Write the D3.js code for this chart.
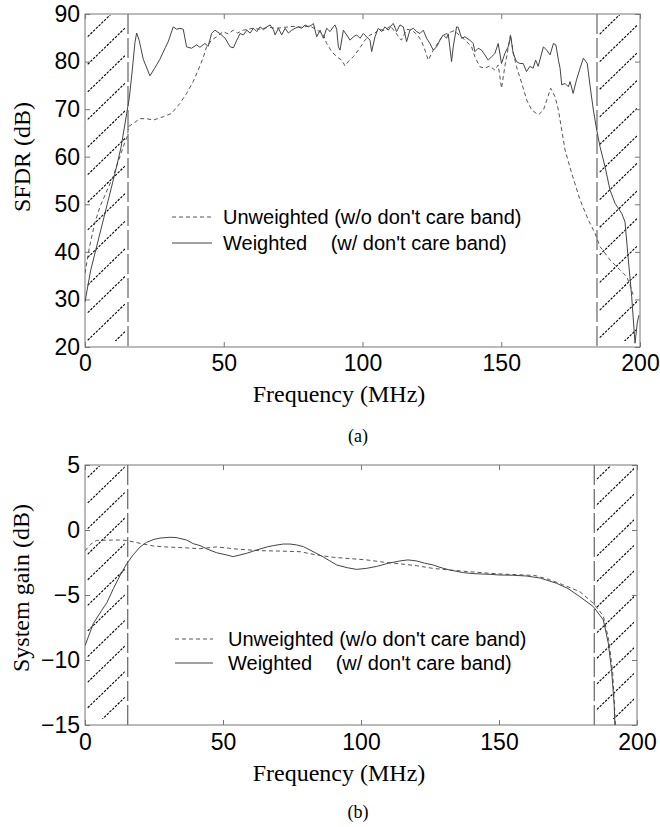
<!DOCTYPE html>
<html>
<head>
<meta charset="utf-8">
<script src="https://cdn.jsdelivr.net/npm/d3@7"></script>
<style>
    body { margin: 0; background: #fff; }
    svg { display: block; }
</style>
</head>
<body>
<div id="chart"></div>
<script>
'use strict';

/* global d3 */

var FREQ_TICKS = [0, 50, 100, 150, 200];
var SFDR_TICKS = [20, 30, 40, 50, 60, 70, 80, 90];
var GAIN_TICKS = [-15, -10, -5, 0, 5];
var DONT_CARE_BANDS = [[0, 15.5], [184.5, 200]];
var LEGEND_LABELS = ["Unweighted (w/o don't care band)", "Weighted", "(w/ don't care band)"];

// [frequency MHz, SFDR dB]
var sfdrUnweighted = [
    [0, 35.5], [1.6, 41], [3.5, 46], [5.4, 49.5], [8, 53], [10.1, 55.8], [12, 59], [13.8, 62.1],
    [15.4, 64.6], [15.6, 66.3], [17.4, 67], [19.8, 68], [22.2, 68], [24.6, 67.7], [28.2, 68.4],
    [31.2, 69.1], [34.2, 71.2], [36.6, 73.3], [39, 75.8], [40.8, 78.2], [42.7, 81], [43.8, 83.1],
    [45.6, 84.5], [47.4, 85.2], [49.8, 86.3], [51.6, 85.8], [53.4, 86.6], [55, 86], [57, 86.6],
    [60.6, 87], [63, 86.8], [66, 87.2], [69, 87], [72, 87.2], [75, 87.4], [78, 87.2], [81, 87.5],
    [84, 86.5], [86, 85.5], [87.1, 83.8], [88.9, 82.1], [90.7, 81], [92.5, 80.3], [93.7, 79.1],
    [94.9, 80], [96.7, 81], [98.5, 82.4], [100.9, 84.5], [102.5, 85.5], [104.5, 86], [106, 86.8],
    [108, 86.5], [110, 87.5], [112.3, 85.8], [114, 84.5], [116, 86.8], [118, 86.5], [120, 85.5],
    [121.5, 84], [122.5, 82.4], [123.7, 80.3], [125.5, 82.4], [127.3, 84], [129.1, 85.6], [131, 86],
    [133, 86.5], [135, 85.5], [137, 84.5], [139.3, 83.1], [140.5, 81], [142.3, 78.9], [144.1, 78.6],
    [145.9, 79.1], [147.7, 78.2], [148.9, 79.3], [150.1, 74.4], [151.3, 79], [152.5, 82.8],
    [153.3, 85.6], [154.3, 82], [155.5, 78.9], [157.4, 75.4], [159.2, 71.9], [161, 69.8],
    [163.4, 68.8], [165.2, 69.8], [166.4, 71.9], [167.8, 74.4], [169.4, 72.6], [170.6, 69.8],
    [171.8, 65.6], [173, 61.4], [175.4, 56.5], [178.4, 50.9], [181.4, 46.7], [183.8, 43.9],
    [185.6, 41.1], [189.2, 38.3], [192.8, 36.2], [195.2, 34.8], [196.4, 33], [197.5, 31]
];

var sfdrWeighted = [
    [0, 29.5], [2, 36], [5, 43], [8, 50], [11, 57], [13, 62], [15, 69], [16, 72.5], [17, 78],
    [18, 84], [18.6, 86], [19.5, 84.5], [21, 80.5], [23.4, 77], [25, 78.5], [27, 80.5], [29, 83],
    [30, 84.2], [31.8, 87.3], [33, 86.8], [34.2, 87], [35.4, 86.8], [36.6, 83.1], [38.4, 82.8],
    [40.2, 83.5], [41.4, 83], [43.2, 83.8], [44.4, 83.2], [45.6, 85.9], [46.8, 86.6], [48.6, 85.9],
    [50.5, 84.9], [52.3, 83.1], [53.5, 82.9], [54.7, 84.5], [55.9, 85.9], [57.1, 85.6], [58.3, 86.6],
    [59.5, 86], [60.7, 87], [61.9, 86.3], [63.1, 87.3], [64.3, 86.7], [65.5, 87.3], [66.7, 87.7],
    [67.9, 86.7], [68.5, 85.6], [69.7, 87], [70.9, 85.6], [72.1, 87], [73.3, 86], [74.5, 86.6],
    [75.7, 87], [76.9, 87.3], [78.1, 87], [79.3, 87.7], [80.5, 87.3], [81.7, 87.7], [82.3, 88],
    [83.5, 85.2], [84.7, 86.6], [85.9, 84.9], [87.1, 87], [88.3, 86.3], [89.5, 87.3], [90.1, 87.7],
    [90.7, 86.8], [91.3, 83.1], [91.9, 82.4], [93.1, 86.6], [94.3, 85.6], [95.5, 84.5], [96.7, 85.2],
    [97.9, 85.6], [99.1, 84.9], [100.3, 85.9], [101.5, 85.2], [102.7, 84.5], [103.3, 82.1],
    [104.5, 85.2], [105.7, 87], [106.9, 86.3], [108.1, 87.3], [109.3, 86.6], [110.5, 87.7],
    [111.1, 88], [112.3, 86.3], [113.5, 87.7], [114.7, 87.3], [115.9, 84.2], [117.1, 86.6],
    [118.3, 87], [119.5, 86.3], [120.7, 85.9], [121.9, 86.6], [123.1, 84.9], [124.3, 83.8],
    [125.5, 82.4], [126.7, 83.1], [127.9, 84.5], [129.1, 85.6], [130.3, 84.9], [130.9, 85.8],
    [132.1, 80], [132.7, 83.1], [133.9, 87.3], [134.5, 87.2], [135.7, 84.9], [136.9, 85.2],
    [138.7, 84.5], [139.9, 83.8], [140.5, 82.1], [141.7, 82.8], [142.9, 82.4], [144.1, 81.4],
    [145.3, 80.3], [146.5, 81], [147.7, 81.7], [148.9, 83.8], [150.1, 79.6], [151.3, 81.7],
    [152.5, 83.1], [153.4, 85.4], [154.3, 81.7], [155.5, 80], [156.7, 79.6], [157.9, 79.6],
    [159.1, 77.9], [160.3, 79], [161.5, 78.6], [162.4, 80.3], [163.3, 79], [165.2, 83.1],
    [166.4, 82.4], [167.6, 81.4], [168.8, 83.8], [169.7, 83.5], [170.6, 80.3], [171.2, 78.6],
    [171.8, 75.1], [173, 75.4], [174.2, 74.7], [174.8, 75.8], [175.9, 73.3], [177.1, 76.1],
    [178.4, 78.6], [179.6, 80.7], [181, 79.6], [182, 74.9], [183.2, 69.8], [184.4, 65.6],
    [185.6, 62.1], [187.4, 57.9], [189.2, 53], [191, 50.2], [193.4, 48.1], [194.6, 46.3],
    [195.8, 38.3], [197, 30.6], [198.2, 20.8], [199, 25], [199.6, 26.7]
];

// [frequency MHz, system gain dB]
var gainUnweighted = [
    [0, -1.6], [2, -1.1], [4.2, -0.8], [8, -0.78], [12, -0.77], [15.1, -0.8], [20, -1.03],
    [24.8, -1.23], [29, -1.3], [35.6, -1.36], [41.7, -1.44], [47.7, -1.3], [52, -1.4],
    [56.2, -1.49], [63.4, -1.59], [70.7, -1.62], [77.9, -1.67], [83.9, -1.92], [90, -2.1],
    [96, -2.2], [102, -2.3], [108, -2.47], [114, -2.6], [120.2, -2.75], [126, -2.95],
    [132.2, -3.08], [139.5, -3.21], [146.7, -3.33], [152, -3.4], [158, -3.45], [163, -3.5],
    [168, -3.8], [173, -4.2], [179.3, -4.74], [184.2, -5.64], [187.8, -6.6], [189.8, -8.5],
    [191.2, -11], [192.2, -15]
];

var gainWeighted = [
    [0, -8.9], [3, -7.2], [6, -6.2], [7.9, -5.6], [10.3, -4.5], [12.7, -3.5], [15.1, -2.6],
    [17.5, -1.9], [20, -1.3], [22.3, -0.95], [25, -0.72], [27.2, -0.62], [30.8, -0.56], [33, -0.58],
    [36.8, -0.77], [39.2, -1.05], [41.7, -1.2], [44.1, -1.45], [47.7, -1.75], [51.3, -1.92],
    [53.7, -2.05], [58.6, -1.79], [62.2, -1.54], [66, -1.3], [68.2, -1.2], [71.9, -1.08],
    [74.3, -1.08], [76.7, -1.15], [79.1, -1.28], [83, -1.7], [86.3, -2.07], [91.2, -2.69],
    [95, -2.9], [98.4, -3.03], [102, -2.95], [105.7, -2.8], [110, -2.55], [114.1, -2.38],
    [117, -2.3], [120.2, -2.38], [123, -2.55], [126.2, -2.69], [129, -2.9], [132.2, -3.08],
    [137.1, -3.28], [141, -3.36], [146.7, -3.41], [150, -3.46], [155, -3.48], [160, -3.54],
    [165, -3.7], [170.9, -4.1], [175, -4.5], [179.3, -5.13], [184.2, -5.9], [187.8, -6.92],
    [189.6, -8.7], [190.8, -10.8], [191.7, -13.3], [192, -15]
];

var WIDTH = 660;
var HEIGHT = 827;
var HATCH_SLOPE = 0.97;
var FRAME_COLOR = "#777";
var SANS = "'Liberation Sans', Arial, sans-serif";
var SERIF = "'Liberation Serif', 'Times New Roman', serif";

var svg = d3.select("#chart").append("svg")
    .attr("width", WIDTH)
    .attr("height", HEIGHT);
var defs = svg.append("defs");

svg.append("rect")
    .attr("width", WIDTH)
    .attr("height", HEIGHT)
    .attr("fill", "#fff");

function drawPanel(cfg) {
    var g = svg.append("g");
    var x = d3.scaleLinear().domain([0, 200]).range([cfg.left, cfg.right]);
    var y = d3.scaleLinear().domain(cfg.yDomain).range([cfg.bottom, cfg.top]);

    defs.append("clipPath").attr("id", cfg.id + "-clip")
        .append("rect")
        .attr("x", cfg.left)
        .attr("y", cfg.top)
        .attr("width", cfg.right - cfg.left)
        .attr("height", cfg.bottom - cfg.top);

    // don't care bands: hatching
    DONT_CARE_BANDS.forEach(function (band, i) {
        var x0 = x(band[0]);
        var x1 = x(band[1]);
        var hid = cfg.id + "-hatch" + i;
        defs.append("clipPath").attr("id", hid)
            .append("rect")
            .attr("x", x0 + 2)
            .attr("y", cfg.top + 1)
            .attr("width", x1 - x0 - 5)
            .attr("height", cfg.bottom - cfg.top - 7);

        var starts = [];
        for (var yy = cfg.hatchPhase[i] - 3 * cfg.hatchStep; yy < cfg.bottom + 60; yy += cfg.hatchStep) {
            starts.push(yy);
        }
        g.append("g")
            .attr("clip-path", "url(#" + hid + ")")
            .selectAll("line")
            .data(starts)
            .enter().append("line")
            .attr("x1", x0)
            .attr("y1", function (d) { return d; })
            .attr("x2", x1)
            .attr("y2", function (d) { return d - HATCH_SLOPE * (x1 - x0); })
            .attr("stroke", "#000")
            .attr("stroke-width", 1.1)
            .attr("stroke-dasharray", "2.5,1.3");
    });

    // band edges
    g.selectAll(".edge")
        .data([DONT_CARE_BANDS[0][1], DONT_CARE_BANDS[1][0]])
        .enter().append("line")
        .attr("class", "edge")
        .attr("x1", function (d) { return x(d); })
        .attr("x2", function (d) { return x(d); })
        .attr("y1", cfg.top)
        .attr("y2", cfg.bottom)
        .attr("stroke", "#444")
        .attr("stroke-width", 1)
        .attr("stroke-dasharray", "20,4");

    // axes (ticks point inward)
    function styleAxis(sel) {
        sel.select(".domain").remove();
        sel.selectAll(".tick line").attr("stroke", FRAME_COLOR);
        sel.selectAll(".tick text")
            .attr("fill", "#000")
            .style("font-family", SANS)
            .style("font-size", "23px");
    }

    g.append("g")
        .attr("transform", "translate(0," + cfg.bottom + ")")
        .call(d3.axisBottom(x).tickValues(FREQ_TICKS).tickSize(-5).tickPadding(cfg.xPad))
        .call(styleAxis);
    g.append("g")
        .attr("transform", "translate(0," + cfg.top + ")")
        .call(d3.axisTop(x).tickValues(FREQ_TICKS).tickSize(-5).tickFormat(""))
        .call(styleAxis);
    g.append("g")
        .attr("transform", "translate(" + cfg.left + ",0)")
        .call(d3.axisLeft(y).tickValues(cfg.yTicks).tickSize(-5).tickPadding(5))
        .call(styleAxis);
    g.append("g")
        .attr("transform", "translate(" + cfg.right + ",0)")
        .call(d3.axisRight(y).tickValues(cfg.yTicks).tickSize(-5).tickFormat(""))
        .call(styleAxis);

    g.append("rect")
        .attr("x", cfg.left)
        .attr("y", cfg.top)
        .attr("width", cfg.right - cfg.left)
        .attr("height", cfg.bottom - cfg.top)
        .attr("fill", "none")
        .attr("stroke", FRAME_COLOR)
        .attr("stroke-width", 1);

    // curves
    var line = d3.line()
        .x(function (d) { return x(d[0]); })
        .y(function (d) { return y(d[1]); });

    var curves = g.append("g").attr("clip-path", "url(#" + cfg.id + "-clip)");
    curves.append("path")
        .datum(cfg.unweighted)
        .attr("d", line)
        .attr("fill", "none")
        .attr("stroke", "#555")
        .attr("stroke-width", 1)
        .attr("stroke-dasharray", "4,3");
    curves.append("path")
        .datum(cfg.weighted)
        .attr("d", line)
        .attr("fill", "none")
        .attr("stroke", "#444")
        .attr("stroke-width", 1);

    // legend
    var lg = cfg.legend;
    g.append("line")
        .attr("x1", lg.x1).attr("x2", lg.x2)
        .attr("y1", lg.y[0]).attr("y2", lg.y[0])
        .attr("stroke", "#555")
        .attr("stroke-dasharray", "4,3");
    g.append("line")
        .attr("x1", lg.x1).attr("x2", lg.x2)
        .attr("y1", lg.y[1]).attr("y2", lg.y[1])
        .attr("stroke", "#444");

    g.append("text")
        .attr("x", lg.textX)
        .attr("y", lg.y[0])
        .attr("dy", "0.35em")
        .style("font-family", SANS)
        .style("font-size", "20px")
        .text(LEGEND_LABELS[0]);

    var probe = g.append("text")
        .style("font-family", SANS)
        .style("font-size", "20px")
        .text("Unweighted ");
    var gap = probe.node().getComputedTextLength();
    probe.remove();

    var t2 = g.append("text")
        .attr("y", lg.y[1])
        .attr("dy", "0.35em")
        .style("font-family", SANS)
        .style("font-size", "20px");
    t2.append("tspan").attr("x", lg.textX).text(LEGEND_LABELS[1]);
    t2.append("tspan").attr("x", lg.textX + gap + 2).text(LEGEND_LABELS[2]);

    // titles
    g.append("text")
        .attr("x", cfg.xTitleX)
        .attr("y", cfg.xTitleY)
        .attr("text-anchor", "middle")
        .style("font-family", SERIF)
        .style("font-size", "24px")
        .text("Frequency (MHz)");

    g.append("text")
        .attr("transform", "translate(" + cfg.yTitleX + "," + cfg.yTitleY + ") rotate(-90)")
        .attr("text-anchor", "middle")
        .style("font-family", SERIF)
        .style("font-size", "24px")
        .text(cfg.yLabel);

    g.append("text")
        .attr("x", cfg.captionX)
        .attr("y", cfg.captionY)
        .attr("text-anchor", "middle")
        .style("font-family", SERIF)
        .style("font-size", "18px")
        .text(cfg.caption);
}

drawPanel({
    id: "sfdr",
    left: 85, right: 640, top: 14, bottom: 347,
    yDomain: [20, 90],
    yTicks: SFDR_TICKS,
    xPad: 8,
    hatchPhase: [39.3, 36.7],
    hatchStep: 27.6,
    unweighted: sfdrUnweighted,
    weighted: sfdrWeighted,
    legend: { x1: 172, x2: 212, textX: 223, y: [217, 243] },
    xTitleX: 339, xTitleY: 402,
    yTitleX: 30, yTitleY: 157,
    yLabel: "SFDR (dB)",
    caption: "(a)", captionX: 358, captionY: 442
});

drawPanel({
    id: "gain",
    left: 85, right: 637, top: 465, bottom: 725,
    yDomain: [-15, 5],
    yTicks: GAIN_TICKS,
    xPad: 9,
    hatchPhase: [480, 481.7],
    hatchStep: 25.6,
    unweighted: gainUnweighted,
    weighted: gainWeighted,
    legend: { x1: 175, x2: 213, textX: 228, y: [639, 663] },
    xTitleX: 339, xTitleY: 781,
    yTitleX: 29, yTitleY: 588,
    yLabel: "System gain (dB)",
    caption: "(b)", captionX: 358, captionY: 818
});
</script>
</body>
</html>
